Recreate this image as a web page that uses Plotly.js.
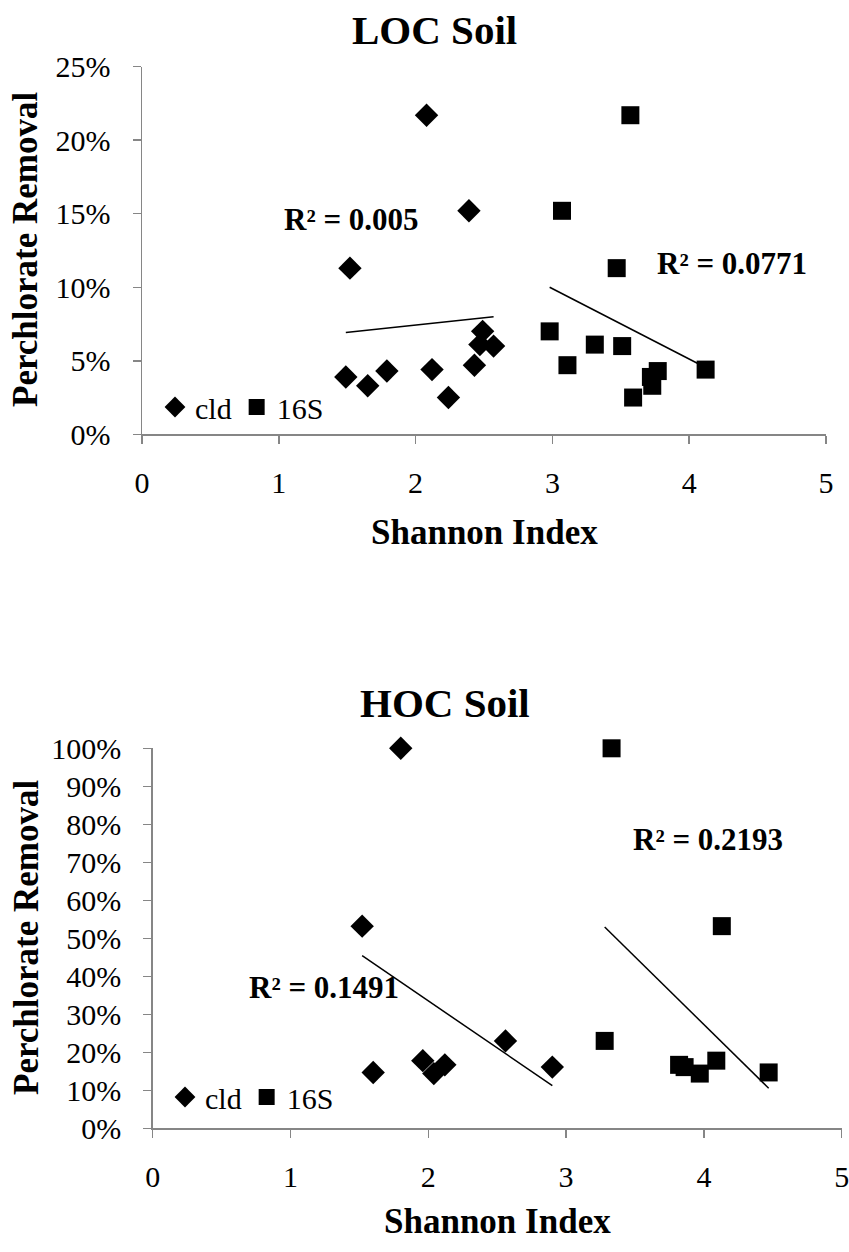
<!DOCTYPE html>
<html><head><meta charset="utf-8">
<script src="https://cdn.plot.ly/plotly-3.0.1.min.js"></script>
<style>html,body{margin:0;padding:0;background:#fff}#chart{width:849px;height:1252px}</style>
</head><body><div id="chart"></div>
<script>
// LOC soil: removal (%) with the Shannon index of each gene library
const locRemoval      = [21.7, 15.2, 11.3, 3.9, 3.3, 4.3, 4.4, 2.5, 4.7, 7.0, 6.1, 6.0];
const locCldShannon   = [2.08, 2.39, 1.52, 1.49, 1.65, 1.79, 2.12, 2.24, 2.43, 2.49, 2.47, 2.57];
const loc16SShannon   = [3.57, 3.07, 3.47, 3.72, 3.73, 3.77, 4.12, 3.59, 3.11, 2.98, 3.31, 3.51];
const locR2Labels     = ['R² = 0.005', 'R² = 0.0771'];

// HOC soil
const hocRemoval      = [100, 53.2, 23.0, 17.8, 16.7, 16.1, 14.7, 14.4];
const hocCldShannon   = [1.80, 1.52, 2.56, 1.96, 2.12, 2.90, 1.60, 2.04];
const hoc16SShannon   = [3.33, 4.13, 3.28, 4.09, 3.82, 3.86, 4.47, 3.97];
const hocR2Labels     = ['R² = 0.1491', 'R² = 0.2193'];

const seriesNames = ['cld', '16S'];
const chartTitles = ['LOC Soil', 'HOC Soil'];
const xTitle = 'Shannon Index';
const yTitle = 'Perchlorate Removal';

function fitLine(xs, ys) {
  const n = xs.length;
  const mx = xs.reduce((a, b) => a + b, 0) / n;
  const my = ys.reduce((a, b) => a + b, 0) / n;
  let sxy = 0, sxx = 0;
  for (let i = 0; i < n; i++) { sxy += (xs[i] - mx) * (ys[i] - my); sxx += (xs[i] - mx) ** 2; }
  const b = sxy / sxx, a = my - b * mx;
  const x0 = Math.min(...xs), x1 = Math.max(...xs);
  return { x: [x0, x1], y: [a + b * x0, a + b * x1] };
}

const FONT = 'Liberation Serif, Times New Roman, serif';

function pts(x, y, name, symbol, size, xa, ya, lg) {
  return { type: 'scatter', mode: 'markers', x: x, y: y, name: name, xaxis: xa, yaxis: ya, legend: lg,
    cliponaxis: false,
    marker: { symbol: symbol, size: size, color: '#000', line: { width: 0 } }, hoverinfo: 'x+y' };
}
function trend(xs, ys, xa, ya) {
  const f = fitLine(xs, ys);
  return { type: 'scatter', mode: 'lines', x: f.x, y: f.y, xaxis: xa, yaxis: ya, showlegend: false,
    line: { color: '#000', width: 1.5 }, hoverinfo: 'skip' };
}

const data = [
  trend(locCldShannon, locRemoval, 'x', 'y'),
  trend(loc16SShannon, locRemoval, 'x', 'y'),
  pts(locCldShannon, locRemoval, seriesNames[0], 'diamond', 18, 'x', 'y', 'legend'),
  pts(loc16SShannon, locRemoval, seriesNames[1], 'square', 18, 'x', 'y', 'legend'),
  trend(hocCldShannon, hocRemoval, 'x2', 'y2'),
  trend(hoc16SShannon, hocRemoval, 'x2', 'y2'),
  pts(hocCldShannon, hocRemoval, seriesNames[0], 'diamond', 18, 'x2', 'y2', 'legend2'),
  pts(hoc16SShannon, hocRemoval, seriesNames[1], 'square', 18, 'x2', 'y2', 'legend2')
];

const H = 1252, W = 849;
const common = {
  showline: true, linecolor: '#868686', linewidth: 1.5,
  ticks: 'outside', ticklen: 8, tickwidth: 1.5, tickcolor: '#868686',
  showgrid: false, zeroline: false, tickfont: { family: FONT, size: 30, color: '#000' },
  ticklabeloverflow: 'allow', fixedrange: true
};
const xCommon = Object.assign({}, common, { range: [0, 5], dtick: 1, tick0: 0, ticklabelstandoff: 13 });
const yCommon = Object.assign({}, common, { ticksuffix: '%', tick0: 0, ticklabelstandoff: 16 });

const legendCommon = { orientation: 'h', xanchor: 'left', yanchor: 'middle', bgcolor: 'rgba(0,0,0,0)',
  borderwidth: 0, font: { family: FONT, size: 30, color: '#000' }, itemwidth: 30, tracegroupgap: 0 };

function py(px) { return 1 - px / H; }
function pxx(px) { return px / W; }

const annots = [
  { text: '<b>' + chartTitles[0] + '</b>', x: pxx(434), y: py(30), size: 41 },
  { text: '<b>' + chartTitles[1] + '</b>', x: pxx(445), y: py(703), size: 41 },
  { text: '<b>' + xTitle + '</b>', x: pxx(484), y: py(532), size: 35 },
  { text: '<b>' + xTitle + '</b>', x: pxx(497), y: py(1221), size: 35 },
  { text: '<b>' + yTitle + '</b>', x: pxx(26), y: py(250), size: 35, textangle: -90 },
  { text: '<b>' + yTitle + '</b>', x: pxx(26), y: py(938), size: 35, textangle: -90 }
].map(a => ({ xref: 'paper', yref: 'paper', xanchor: 'center', yanchor: 'middle', showarrow: false,
  text: a.text, x: a.x, y: a.y, textangle: a.textangle || 0,
  font: { family: FONT, color: '#000', size: a.size } }));

const r2 = [
  { text: '<b>' + locR2Labels[0] + '</b>', x: 1.53, y: 14.6, xref: 'x', yref: 'y' },
  { text: '<b>' + locR2Labels[1] + '</b>', x: 4.31, y: 11.65, xref: 'x', yref: 'y' },
  { text: '<b>' + hocR2Labels[0] + '</b>', x: 1.24, y: 37, xref: 'x2', yref: 'y2' },
  { text: '<b>' + hocR2Labels[1] + '</b>', x: 4.03, y: 76, xref: 'x2', yref: 'y2' }
].map(a => Object.assign({ showarrow: false, xanchor: 'center', yanchor: 'middle',
  font: { family: FONT, size: 31, color: '#000' } }, a));

const layout = {
  width: W, height: H, margin: { l: 0, r: 0, t: 0, b: 0 },
  paper_bgcolor: '#fff', plot_bgcolor: 'rgba(0,0,0,0)',
  font: { family: FONT, color: '#000', size: 30 },
  showlegend: true,
  xaxis: Object.assign({}, xCommon, { domain: [142 / W, 826 / W], anchor: 'y' }),
  yaxis: Object.assign({}, yCommon, { domain: [py(434.3), py(66.7)], range: [0, 25], dtick: 5, anchor: 'x' }),
  xaxis2: Object.assign({}, xCommon, { domain: [152.7 / W, 841.7 / W], anchor: 'y2' }),
  yaxis2: Object.assign({}, yCommon, { domain: [py(1128.3), py(748.3)], range: [0, 100], dtick: 10, anchor: 'x2' }),
  legend: Object.assign({}, legendCommon, { x: pxx(155), y: py(407) }),
  legend2: Object.assign({}, legendCommon, { x: pxx(165), y: py(1097) }),
  annotations: annots.concat(r2),
  hovermode: 'closest'
};

Plotly.newPlot('chart', data, layout, { displayModeBar: false, staticPlot: true });
</script>
</body></html>
